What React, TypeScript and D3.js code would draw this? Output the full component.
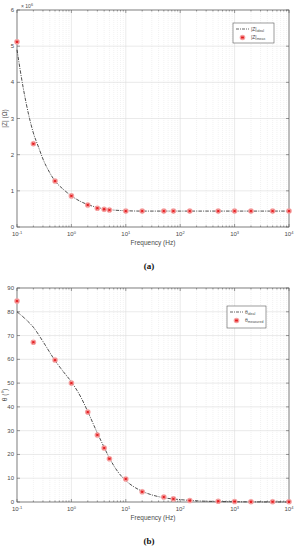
import * as d3 from 'd3'

// measured frequencies (Hz)
const freq = [0.1, 0.2, 0.5, 1, 2, 3, 4, 5, 10, 20, 50, 75, 150, 500, 1000, 2000, 5000, 10000]
// |Z| in units of 1e6 ohm
const zMeas = [5.12, 2.3, 1.27, 0.86, 0.61, 0.52, 0.49, 0.47, 0.44, 0.44, 0.44, 0.44, 0.44, 0.44, 0.44, 0.44, 0.44, 0.44]
const zIdealFreq = [0.1, 0.13, 0.17, 0.2, 0.25, 0.3, 0.4, 0.5, 0.7, 1, 1.5, 2, 3, 5, 10, 20, 100, 1000, 10000]
const zIdeal = [4.9, 3.85, 3.0, 2.6, 2.2, 1.88, 1.5, 1.27, 1.05, 0.86, 0.7, 0.62, 0.54, 0.48, 0.45, 0.44, 0.44, 0.44, 0.44]

// phase in degrees
const thetaMeas = [84.5, 67.2, 59.7, 50, 37.8, 28.2, 22.7, 18.2, 9.7, 4.3, 2.1, 1.3, 0.6, 0.3, 0.2, 0.1, 0.1, 0.1]
const thetaIdealFreq = [0.1, 0.15, 0.2, 0.3, 0.5, 0.7, 1, 1.5, 2, 3, 4, 5, 7, 10, 15, 20, 30, 50, 100, 200, 500, 1000, 10000]
const thetaIdeal = [80, 76.5, 73.5, 67.5, 59.5, 55, 50.5, 44, 38, 29, 23, 18.5, 13, 9, 6, 4.5, 3, 1.8, 1, 0.5, 0.2, 0.1, 0]

const zTicks = [0, 1, 2, 3, 4, 5, 6]
const thetaTicks = [0, 10, 20, 30, 40, 50, 60, 70, 80, 90]
const decades = [-1, 0, 1, 2, 3, 4]

const W = 296
const H = 550
const left = 17
const right = 289
const font = 'Liberation Sans, Arial, sans-serif'
const axisColor = '#5a5a5a'
const textColor = '#4a4a4a'

const minorFreqs: number[] = []
for (let e = -1; e < 4; e++) for (let m = 2; m <= 9; m++) minorFreqs.push(m * 10 ** e)

function Marker({ x, y }: { x: number; y: number }) {
  return (
    <g transform={`translate(${x},${y})`}>
      <circle r={2.8} fill="#f5a0a0" />
      <g stroke="#e3191c" strokeWidth={0.9}>
        <line x1={-1.5} x2={1.5} y1={0} y2={0} />
        <line x1={-0.8} x2={0.8} y1={-1.3} y2={1.3} />
        <line x1={-0.8} x2={0.8} y1={1.3} y2={-1.3} />
      </g>
    </g>
  )
}

type PanelProps = {
  top: number
  bottom: number
  yMax: number
  yTicks: number[]
  meas: number[]
  idealF: number[]
  ideal: number[]
  yLabel: string
  exponent?: boolean
  legend: { x: number; y: number; w: number; h: number; sym: string; sub1: string; sub2: string }
  caption: string
}

function Panel(p: PanelProps) {
  const x = d3.scaleLog().domain([0.1, 10000]).range([left, right])
  const y = d3.scaleLinear().domain([0, p.yMax]).range([p.bottom, p.top])
  const line = d3
    .line<number>()
    .x((_, i) => x(p.idealF[i]))
    .y(d => y(d))
    .curve(d3.curveMonotoneX)
  const { legend: lg } = p
  const cx = (left + right) / 2
  return (
    <g fontFamily={font}>
      <rect x={left} y={p.top} width={right - left} height={p.bottom - p.top} fill="#fff" />
      {/* minor grid */}
      {minorFreqs.map(f => (
        <line key={'m' + f} x1={x(f)} x2={x(f)} y1={p.top} y2={p.bottom} stroke="#e4e4e4" strokeWidth={0.5} strokeDasharray="1,1" />
      ))}
      {decades.map(e => (
        <line key={'d' + e} x1={x(10 ** e)} x2={x(10 ** e)} y1={p.top} y2={p.bottom} stroke="#dcdcdc" strokeWidth={0.6} />
      ))}
      {p.yTicks.map(t => (
        <line key={'h' + t} x1={left} x2={right} y1={y(t)} y2={y(t)} stroke="#dcdcdc" strokeWidth={0.6} />
      ))}
      {/* ticks */}
      <g stroke={axisColor} strokeWidth={0.6}>
        {minorFreqs.map(f => (
          <g key={'mt' + f}>
            <line x1={x(f)} x2={x(f)} y1={p.bottom} y2={p.bottom - 1.5} />
            <line x1={x(f)} x2={x(f)} y1={p.top} y2={p.top + 1.5} />
          </g>
        ))}
        {decades.map(e => (
          <g key={'dt' + e}>
            <line x1={x(10 ** e)} x2={x(10 ** e)} y1={p.bottom} y2={p.bottom - 3} />
            <line x1={x(10 ** e)} x2={x(10 ** e)} y1={p.top} y2={p.top + 3} />
          </g>
        ))}
        {p.yTicks.map(t => (
          <g key={'yt' + t}>
            <line x1={left} x2={left + 3} y1={y(t)} y2={y(t)} />
            <line x1={right} x2={right - 3} y1={y(t)} y2={y(t)} />
          </g>
        ))}
      </g>
      <rect x={left} y={p.top} width={right - left} height={p.bottom - p.top} fill="none" stroke={axisColor} strokeWidth={0.7} />
      {/* tick labels */}
      {p.yTicks.map(t => (
        <text key={'yl' + t} x={left - 3} y={y(t) + 2} fontSize={6} fill={textColor} textAnchor="end">
          {t}
        </text>
      ))}
      {decades.map(e => (
        <text key={'xl' + e} x={x(10 ** e)} y={p.bottom + 9} fontSize={6} fill={textColor} textAnchor="middle">
          10
          <tspan fontSize={4} dy={-2.5}>
            {e}
          </tspan>
        </text>
      ))}
      {p.exponent && (
        <text x={left + 4} y={p.top - 2} fontSize={5} fill={textColor}>
          × 10
          <tspan fontSize={3.8} dy={-2}>
            6
          </tspan>
        </text>
      )}
      <text x={cx} y={p.bottom + 18} fontSize={6.5} fill={textColor} textAnchor="middle">
        Frequency (Hz)
      </text>
      <text transform={`translate(7,${(p.top + p.bottom) / 2}) rotate(-90)`} fontSize={6.5} fill={textColor} textAnchor="middle">
        {p.yLabel}
      </text>
      {/* data */}
      <path d={line(p.ideal) ?? ''} fill="none" stroke="#222" strokeWidth={0.8} strokeDasharray="3.5,1.2,1,1.2" />
      {p.meas.map((v, i) => (
        <Marker key={'pt' + i} x={x(freq[i])} y={y(v)} />
      ))}
      {/* legend */}
      <rect x={lg.x} y={lg.y} width={lg.w} height={lg.h} fill="#fff" stroke={axisColor} strokeWidth={0.6} />
      <line x1={lg.x + 3} x2={lg.x + 16} y1={lg.y + 6} y2={lg.y + 6} stroke="#222" strokeWidth={0.7} strokeDasharray="3,1,1,1" />
      <text x={lg.x + 18} y={lg.y + 7.5} fontSize={5} fill={textColor}>
        {p.legend.sym}
        <tspan fontSize={3.5} dy={1.5}>
          {lg.sub1}
        </tspan>
      </text>
      <Marker x={lg.x + 9.5} y={lg.y + 14.5} />
      <text x={lg.x + 18} y={lg.y + 15.5} fontSize={5} fill={textColor}>
        {p.legend.sym}
        <tspan fontSize={3.5} dy={1.5}>
          {lg.sub2}
        </tspan>
      </text>
      <text x={cx - 4} y={p.bottom + 42} fontSize={9} fontWeight="bold" fontFamily="Liberation Serif, Times New Roman, serif" fill="#111" textAnchor="middle">
        {p.caption}
      </text>
    </g>
  )
}

export default function App() {
  return (
    <svg width={W} height={H} viewBox={`0 0 ${W} ${H}`} style={{ position: 'absolute', left: 0, top: 0, background: '#fff' }}>
      <Panel
        top={10}
        bottom={227}
        yMax={6}
        yTicks={zTicks}
        meas={zMeas}
        idealF={zIdealFreq}
        ideal={zIdeal}
        yLabel="|Z| (Ω)"
        exponent
        legend={{ x: 233, y: 23, w: 41, h: 20, sym: '|Z|', sub1: 'ideal', sub2: 'meas' }}
        caption="(a)"
      />
      <Panel
        top={288}
        bottom={502}
        yMax={90}
        yTicks={thetaTicks}
        meas={thetaMeas}
        idealF={thetaIdealFreq}
        ideal={thetaIdeal}
        yLabel="θ (°)"
        legend={{ x: 227, y: 306, w: 39, h: 22, sym: 'θ', sub1: 'ideal', sub2: 'measured' }}
        caption="(b)"
      />
    </svg>
  )
}
